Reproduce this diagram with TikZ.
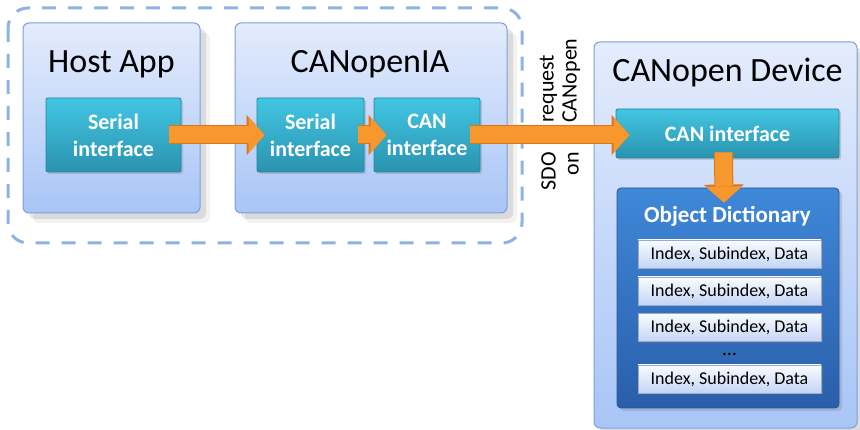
\documentclass[tikz,border=0pt]{standalone}
\usepackage{fontspec}
\setmainfont{Carlito}
\usetikzlibrary{arrows.meta,shadows}

\definecolor{paneltop}{HTML}{E4ECFC}
\definecolor{panelbot}{HTML}{A8C5F7}
\definecolor{paneledge}{HTML}{7C9FD6}
\definecolor{ifacetop}{HTML}{42C6E3}
\definecolor{ifacebot}{HTML}{2A93AF}
\definecolor{ifaceedge}{HTML}{2386A0}
\definecolor{dicttop}{HTML}{3F88D8}
\definecolor{dictbot}{HTML}{2A5EAA}
\definecolor{dictedge}{HTML}{27579A}
\definecolor{entrytop}{HTML}{FAFCFF}
\definecolor{entrybot}{HTML}{C3D5F4}
\definecolor{arrowfill}{HTML}{F7982F}
\definecolor{arrowedge}{HTML}{DC7418}
\definecolor{dashblue}{HTML}{8DB3E2}

\tikzset{
  panel/.style={draw=paneledge, line width=1pt, rounded corners=6pt,
    top color=paneltop, bottom color=panelbot,
    drop shadow={shadow xshift=10pt, shadow yshift=-10pt, opacity=0.1},
    drop shadow={shadow xshift=6pt, shadow yshift=-6pt, opacity=0.2}},
  paneltitle/.style={anchor=base, font=\fontsize{34}{40}\selectfont},
  iface/.style={draw=ifaceedge, line width=0.8pt, rounded corners=2pt,
    top color=ifacetop, bottom color=ifacebot, text=white, align=center,
    font=\fontsize{22}{27}\selectfont\bfseries,
    drop shadow={shadow xshift=2pt, shadow yshift=-2pt, opacity=0.3}},
  dictbox/.style={draw=dictedge, line width=0.8pt, rounded corners=4pt,
    top color=dicttop, bottom color=dictbot,
    drop shadow={shadow xshift=3pt, shadow yshift=-3pt, opacity=0.3}},
  entry/.style={draw=entrybot!80!black, line width=0.5pt,
    top color=entrytop, bottom color=entrybot,
    minimum width=183pt, minimum height=28pt, inner sep=0pt,
    font=\fontsize{18}{20}\selectfont,
    drop shadow={shadow xshift=1.5pt, shadow yshift=-1.5pt, opacity=0.3}},
  fatarrow/.style={draw=arrowfill, line width=17pt,
    -{Triangle[length=16pt, width=36pt, line width=0pt]},
    preaction={draw=arrowedge, line width=19pt,
      -{Triangle[length=18pt, width=40pt, line width=0pt]}}},
  sdotext/.style={rotate=90, inner sep=0pt, font=\fontsize{22}{23}\selectfont}
}

\begin{document}
\begin{tikzpicture}[x=1pt, y=-1pt]
\useasboundingbox (0,0) rectangle (860,430);

% dashed group round host and CANopenIA
\draw[dashblue, line width=3pt, rounded corners=20pt, dash pattern=on 14pt off 12pt]
  (8,8) rectangle (522,243);

% panels
\node[panel, minimum width=177pt, minimum height=190pt] (host) at (111.5,118) {};
\node[panel, minimum width=272pt, minimum height=190pt] (ia) at (371,118) {};
\node[panel, minimum width=263pt, minimum height=386pt] (dev) at (725.5,235) {};

\node[paneltitle] (hosttitle) at (111.5,73) {Host App};
\node[paneltitle] (iatitle) at (370,73) {CANopenIA};
\node[paneltitle] (devtitle) at (727.5,82) {CANopen Device};

% interfaces
\node[iface, minimum width=135pt, minimum height=74pt] (hostser) at (113.5,135) {Serial\\interface};
\node[iface, minimum width=107pt, minimum height=74pt] (iaser) at (310.5,135) {Serial\\interface};
\node[iface, minimum width=106pt, minimum height=74pt] (iacan) at (427,135) {CAN\\interface};
\node[iface, minimum width=223pt, minimum height=49pt] (devcan) at (727.5,133.5) {CAN interface};

% object dictionary
\node[dictbox, minimum width=222pt, minimum height=220pt] (dict) at (728,298) {};
\node[anchor=base, text=white, font=\fontsize{23}{25}\selectfont\bfseries] (dicttitle) at (727.5,223) {Object Dictionary};
\node[entry] (e1) at (729.5,254) {Index, Subindex, Data};
\node[entry] (e2) at (729.5,291) {Index, Subindex, Data};
\node[entry] (e3) at (729.5,327.5) {Index, Subindex, Data};
\node[anchor=base, font=\fontsize{20}{20}\selectfont] (edots) at (729.5,356) {\dots};
\node[entry] (e4) at (729.5,379) {Index, Subindex, Data};

% arrows
\draw[fatarrow] ([xshift=-12pt]hostser.east) -- ([xshift=8pt]iaser.west);
\draw[fatarrow] ([xshift=-6pt]iaser.east) -- ([xshift=13pt]iacan.west);
\draw[fatarrow] ([xshift=-10pt]iacan.east) -- ([xshift=14pt]devcan.west |- iacan.east);
\draw[fatarrow] ([xshift=-4pt, yshift=6pt]devcan.south) -- ([xshift=-4pt, yshift=-15pt]dict.north);

% label of the CAN link
\node[sdotext, anchor=east, align=right] (sdo) at (560,152) {SDO\\on};
\node[sdotext, anchor=west, align=left] (req) at (560,123) {request\\CANopen};
\end{tikzpicture}
\end{document}
